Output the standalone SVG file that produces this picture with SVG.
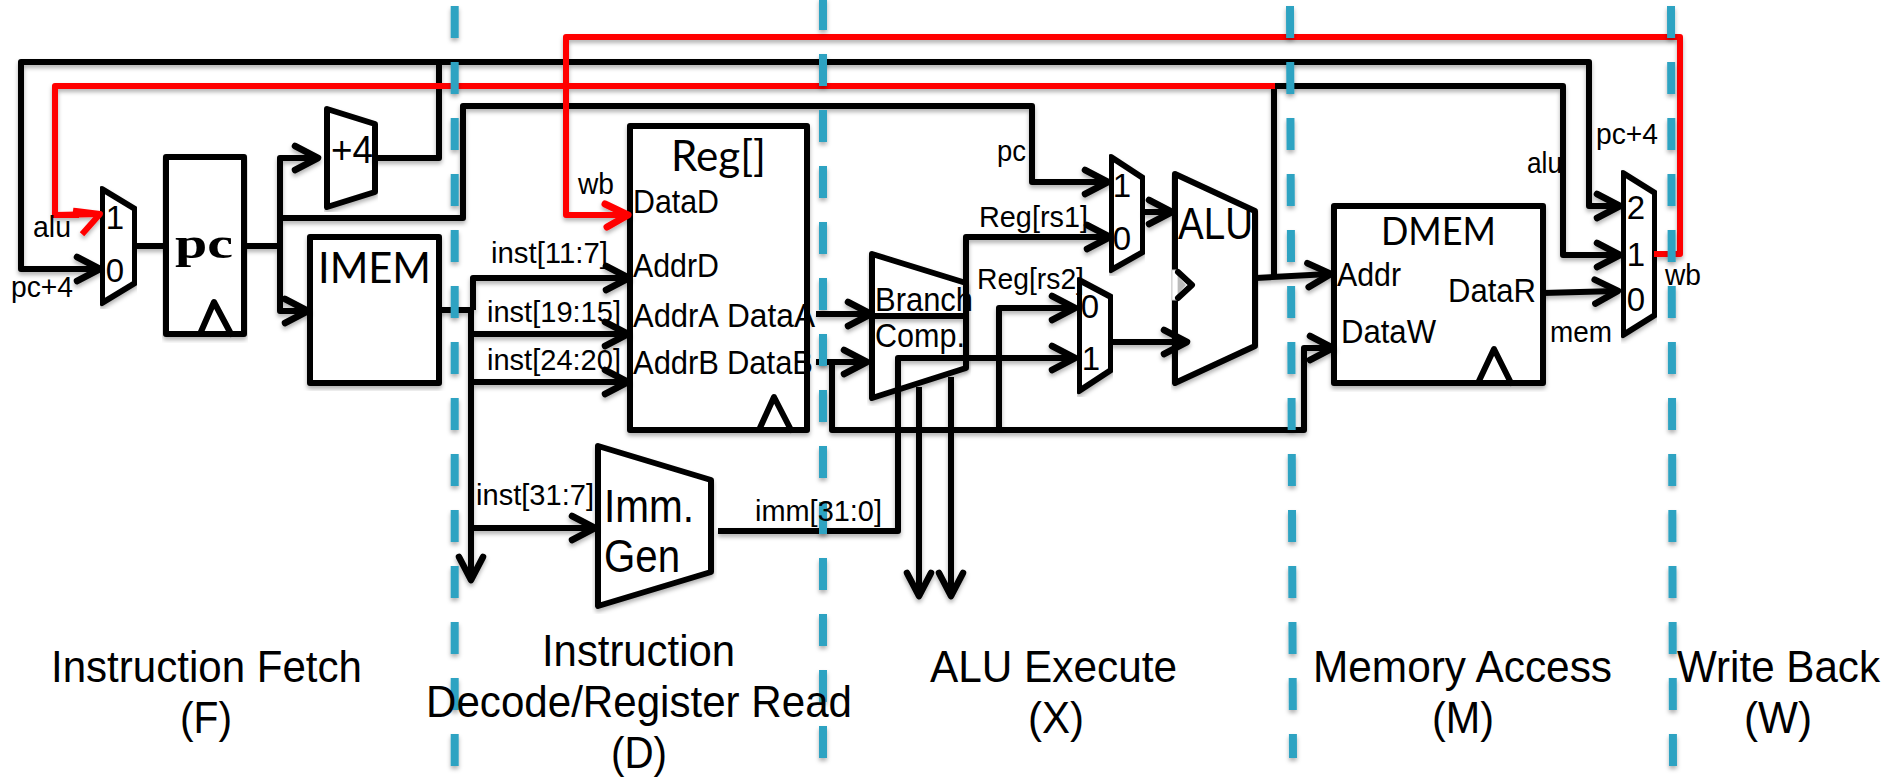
<svg xmlns="http://www.w3.org/2000/svg" width="1887" height="777" viewBox="0 0 1887 777">
<style>
text{font-family:"Liberation Sans",Arial,sans-serif;fill:#000}
.s{font-size:30px}
.m{font-size:33px}
.d{font-size:33px;text-anchor:middle}
.b{font-size:45px}
.c{text-anchor:middle}
.t{font-family:Lato,"Liberation Sans",sans-serif}
.n{fill:#fff;stroke:#000;stroke-width:6;stroke-linejoin:round;filter:url(#sh)}
.o{fill:none;stroke:#000;stroke-width:6;stroke-linejoin:round;stroke-linecap:round}
.w{fill:none;stroke:#000;stroke-width:6;stroke-linejoin:round;stroke-linecap:butt}
.a{marker-end:url(#ah)}
.r{fill:none;stroke:#f00;stroke-width:6;stroke-linejoin:round;stroke-linecap:square}
.dash{stroke:#2ea3c2;stroke-width:8;stroke-dasharray:32 24;fill:none}
</style>
<defs>
<filter id="sh" x="-5%" y="-5%" width="110%" height="110%"><feDropShadow dx="0" dy="3" stdDeviation="2" flood-color="#000" flood-opacity=".3"/></filter>
<marker id="ah" markerUnits="userSpaceOnUse" markerWidth="40" markerHeight="40" viewBox="-30 -20 40 40" refX="0" refY="0" orient="auto"><path d="M-21,-12 L2,0 L-21,12" fill="none" stroke="#000" stroke-width="6.5" stroke-linecap="round" stroke-linejoin="round"/></marker>
<marker id="ar" markerUnits="userSpaceOnUse" markerWidth="40" markerHeight="40" viewBox="-30 -20 40 40" refX="0" refY="0" orient="auto"><path d="M-21,-11 L2,0 L-19,12" fill="none" stroke="#f00" stroke-width="7" stroke-linecap="round" stroke-linejoin="round"/></marker>
</defs>
<rect width="1887" height="777" fill="#fff"/>

<g id="node-mux-f"><path class="n" d="M102,189 L135,209 V283 L102,303 Z"/><text class="d" x="115" y="229">1</text><text class="d" x="115" y="282">0</text></g>
<g id="node-pc"><rect class="n" x="166" y="157" width="78" height="177"/><path class="o" d="M200,334 L214,302 L231,334"/><text x="175" y="258" font-size="44" font-weight="700" style="font-family:'Liberation Serif',serif" textLength="58" lengthAdjust="spacingAndGlyphs">pc</text></g>
<g id="node-plus4"><path class="n" d="M327,109 L375,124 V192 L327,207 Z"/><text x="331" y="163" font-size="39" textLength="42" lengthAdjust="spacingAndGlyphs">+4</text></g>
<g id="node-imem"><rect class="n" x="310" y="237" width="129" height="146"/><text class="t" x="318" y="283" font-size="42" textLength="113" lengthAdjust="spacingAndGlyphs">IMEM</text></g>
<g id="node-reg"><rect class="n" x="630" y="126" width="177" height="304"/><path class="o" d="M759,430 L774,397 L791,430"/>
<text class="t" x="671" y="171" font-size="42" textLength="95" lengthAdjust="spacingAndGlyphs">Reg[]</text>
<text class="m" x="633" y="213" textLength="86" lengthAdjust="spacingAndGlyphs">DataD</text>
<text class="m" x="633" y="277" textLength="86" lengthAdjust="spacingAndGlyphs">AddrD</text>
<text class="m" x="633" y="327" textLength="86" lengthAdjust="spacingAndGlyphs">AddrA</text>
<text class="m" x="727" y="327" textLength="88" lengthAdjust="spacingAndGlyphs">DataA</text>
<text class="m" x="633" y="374" textLength="86" lengthAdjust="spacingAndGlyphs">AddrB</text>
<text class="m" x="727" y="374" textLength="86" lengthAdjust="spacingAndGlyphs">DataB</text></g>
<g id="node-immgen"><path class="n" d="M598,446 L711,480 V572 L598,606 Z"/><text x="604" y="522" font-size="46" textLength="90" lengthAdjust="spacingAndGlyphs">Imm.</text><text x="604" y="572" font-size="46" textLength="76" lengthAdjust="spacingAndGlyphs">Gen</text></g>
<g id="node-branch"><path class="n" d="M872,254 L966,283 V368 L872,398 Z"/><text class="m" x="875" y="311" textLength="98" lengthAdjust="spacingAndGlyphs">Branch</text><text class="m" x="875" y="347" textLength="90" lengthAdjust="spacingAndGlyphs">Comp.</text></g>
<g id="node-mux-a"><path class="n" d="M1111,157 L1143,178 V252 L1111,270 Z"/><text class="d" x="1122" y="197">1</text><text class="d" x="1122" y="250">0</text></g>
<g id="node-mux-b"><path class="n" d="M1079,280 L1111,297 V370 L1079,391 Z"/><text class="d" x="1090" y="318">0</text><text class="d" x="1091" y="370">1</text></g>
<g id="node-alu"><path class="n" d="M1175,174 L1255,211 V346 L1175,383 Z"/><rect x="1172" y="270" width="6" height="30" fill="#fff" stroke="#ccc" stroke-width="1"/><path d="M1178,276 L1186,285 L1178,294 Z" fill="#bbb"/><path class="o" d="M1178,272 L1192,285 L1178,298"/><text x="1178" y="239" font-size="44" textLength="75" lengthAdjust="spacingAndGlyphs">ALU</text></g>
<g id="node-dmem"><rect class="n" x="1334" y="206" width="209" height="177"/><path class="o" d="M1478,383 L1494,349 L1511,383"/>
<text class="t" x="1381" y="245" font-size="38" textLength="115" lengthAdjust="spacingAndGlyphs">DMEM</text>
<text class="m" x="1337" y="286" textLength="64" lengthAdjust="spacingAndGlyphs">Addr</text>
<text class="m" x="1341" y="343" textLength="95" lengthAdjust="spacingAndGlyphs">DataW</text>
<text class="m" x="1448" y="302" textLength="88" lengthAdjust="spacingAndGlyphs">DataR</text></g>
<g id="node-mux-w"><path class="n" d="M1623,173 L1655,193 V315 L1623,335 Z"/><text class="d" x="1636" y="219">2</text><text class="d" x="1636" y="266">1</text><text class="d" x="1636" y="311">0</text></g>

<g id="connectors" filter="url(#sh)">
<path class="w a" d="M373,158 H439 V62 H1589 V206 H1618"/>
<path class="w a" d="M439,62 H21 V269 H98"/>
<path class="w" d="M135,246 H166 M244,246 H280"/>
<path class="w a" d="M280,246 V158 H316"/>
<path class="w a" d="M280,246 V311 H306"/>
<path class="w a" d="M280,218 H463 V106 H1032 V182 H1106"/>
<path class="w" d="M439,310 H473"/>
<path class="w a" d="M473,310 V278 H627"/>
<path class="w a" d="M471,310 V578"/>
<path class="w a" d="M471,334 H626"/>
<path class="w a" d="M471,382 H626"/>
<path class="w a" d="M471,528 H593"/>
<path class="w a" d="M816,314 H869"/>
<path class="w" d="M871,316 H966"/>
<path class="w a" d="M966,368 V237 H1108"/>
<path class="w a" d="M816,362 H865"/>
<path class="w a" d="M832,362 V430 H1304 V348 H1331"/>
<path class="w a" d="M999,430 V308 H1073"/>
<path class="w a" d="M718,531 H898 V358 H1073"/>
<path class="w a" d="M919,387 V594"/>
<path class="w a" d="M951,377 V594"/>
<path class="w a" d="M1143,212 H1170"/>
<path class="w a" d="M1111,342 H1185"/>
<path class="w a" d="M1256,278 L1329,274"/>
<path class="w a" d="M1274,275 V86 H1563 V255 H1618"/>
<path class="w a" d="M1543,293 L1616,291"/>
<path class="r" d="M1657,254 H1680 V37 H566 V215 H626" marker-end="url(#ar)"/>
<path class="r" d="M1272,86 H55 V215 H76"/>
<path class="r" d="M55,215 L98,214"/>
<path class="r" d="M76,211 L100,214 L84,232" stroke-linecap="round"/>
</g>

<g id="stage-lines" filter="url(#sh)">
<path class="dash" d="M454.7,6 V766"/>
<path class="dash" d="M823,-2 V758"/>
<path class="dash" d="M1290,6 L1293,758"/>
<path class="dash" d="M1671,6 L1673,766"/>
</g>

<g id="labels">
<text class="s" x="33" y="237" textLength="38" lengthAdjust="spacingAndGlyphs">alu</text>
<text class="s" x="11" y="297" textLength="62" lengthAdjust="spacingAndGlyphs">pc+4</text>
<text class="s" x="578" y="194" textLength="36" lengthAdjust="spacingAndGlyphs">wb</text>
<text class="s" x="491" y="263" textLength="117" lengthAdjust="spacingAndGlyphs">inst[11:7]</text>
<text class="s" x="487" y="322" textLength="134" lengthAdjust="spacingAndGlyphs">inst[19:15]</text>
<text class="s" x="487" y="370" textLength="134" lengthAdjust="spacingAndGlyphs">inst[24:20]</text>
<text class="s" x="476" y="505" textLength="118" lengthAdjust="spacingAndGlyphs">inst[31:7]</text>
<text class="s" x="755" y="521" textLength="127" lengthAdjust="spacingAndGlyphs">imm[31:0]</text>
<text class="s" x="997" y="161" textLength="29" lengthAdjust="spacingAndGlyphs">pc</text>
<text class="s" x="979" y="227" textLength="109" lengthAdjust="spacingAndGlyphs">Reg[rs1]</text>
<text class="s" x="977" y="289" textLength="107" lengthAdjust="spacingAndGlyphs">Reg[rs2]</text>
<text class="s" x="1527" y="173" textLength="35" lengthAdjust="spacingAndGlyphs">alu</text>
<text class="s" x="1596" y="144" textLength="62" lengthAdjust="spacingAndGlyphs">pc+4</text>
<text class="s" x="1665" y="285" textLength="36" lengthAdjust="spacingAndGlyphs">wb</text>
<text class="s" x="1550" y="342" textLength="62" lengthAdjust="spacingAndGlyphs">mem</text>
</g>

<g id="stage-captions">
<text class="b" x="51" y="682" textLength="311" lengthAdjust="spacingAndGlyphs">Instruction Fetch</text>
<text class="b c" x="206" y="733" textLength="52" lengthAdjust="spacingAndGlyphs">(F)</text>
<text class="b" x="542" y="666" textLength="193" lengthAdjust="spacingAndGlyphs">Instruction</text>
<text class="b" x="426" y="717" textLength="426" lengthAdjust="spacingAndGlyphs">Decode/Register Read</text>
<text class="b c" x="639" y="768" textLength="56" lengthAdjust="spacingAndGlyphs">(D)</text>
<text class="b" x="930" y="682" textLength="247" lengthAdjust="spacingAndGlyphs">ALU Execute</text>
<text class="b c" x="1056" y="733" textLength="56" lengthAdjust="spacingAndGlyphs">(X)</text>
<text class="b" x="1313" y="682" textLength="299" lengthAdjust="spacingAndGlyphs">Memory Access</text>
<text class="b c" x="1463" y="733" textLength="62" lengthAdjust="spacingAndGlyphs">(M)</text>
<text class="b" x="1677" y="682" textLength="203" lengthAdjust="spacingAndGlyphs">Write Back</text>
<text class="b c" x="1778" y="733" textLength="68" lengthAdjust="spacingAndGlyphs">(W)</text>
</g>
</svg>
